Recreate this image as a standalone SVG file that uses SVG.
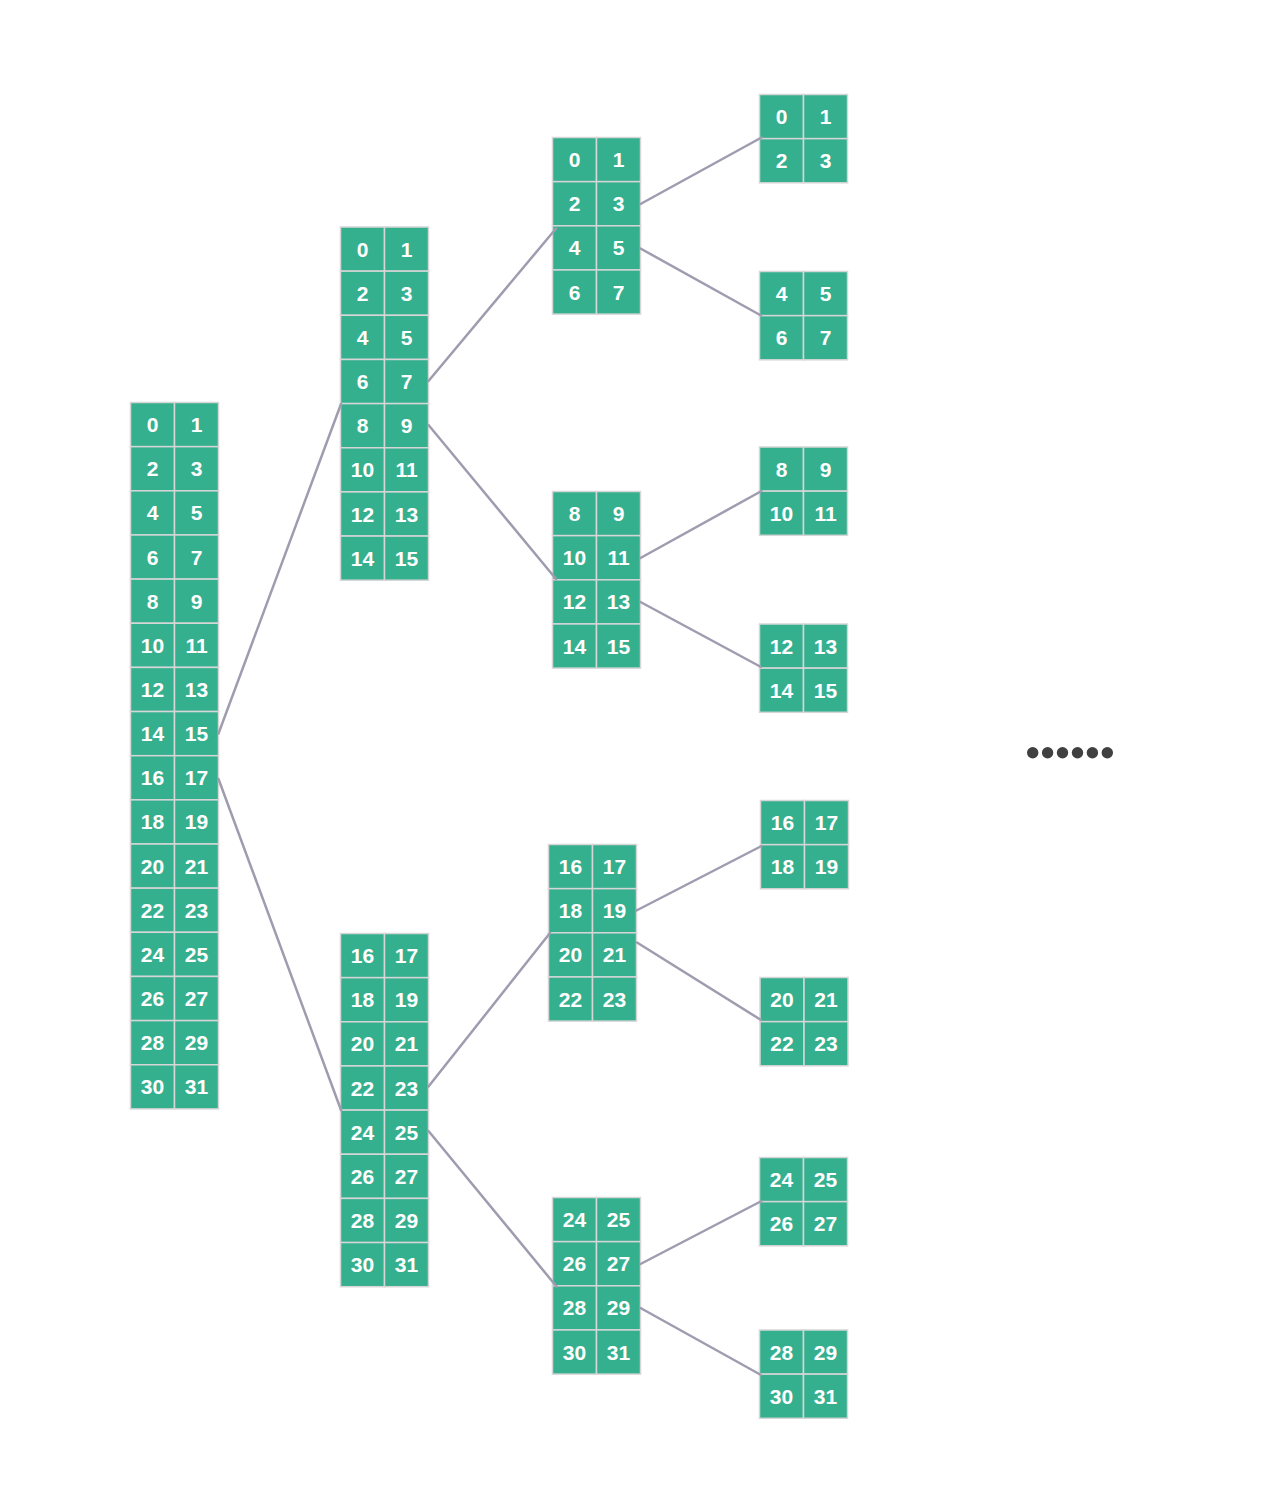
<svg xmlns="http://www.w3.org/2000/svg" width="1280" height="1512" viewBox="0 0 1280 1512">
<style>
rect.c{fill:#35b08f;stroke:#d6d6d6;stroke-width:1.5}
text{font-family:"Liberation Sans",Arial,sans-serif;font-weight:bold;font-size:21px;fill:#ffffff;text-anchor:middle}
.conn line{stroke:#a09cb0;stroke-width:2.5;stroke-linecap:round}
.dots circle{fill:#404040}
</style>
<rect width="1280" height="1512" fill="#ffffff"/>

<g id="blockA">
<rect class="c" x="130.5" y="402.5" width="44" height="44.15"/><rect class="c" x="174.5" y="402.5" width="44" height="44.15"/>
<rect class="c" x="130.5" y="446.65" width="44" height="44.15"/><rect class="c" x="174.5" y="446.65" width="44" height="44.15"/>
<rect class="c" x="130.5" y="490.8" width="44" height="44.15"/><rect class="c" x="174.5" y="490.8" width="44" height="44.15"/>
<rect class="c" x="130.5" y="534.95" width="44" height="44.15"/><rect class="c" x="174.5" y="534.95" width="44" height="44.15"/>
<rect class="c" x="130.5" y="579.1" width="44" height="44.15"/><rect class="c" x="174.5" y="579.1" width="44" height="44.15"/>
<rect class="c" x="130.5" y="623.25" width="44" height="44.15"/><rect class="c" x="174.5" y="623.25" width="44" height="44.15"/>
<rect class="c" x="130.5" y="667.4" width="44" height="44.15"/><rect class="c" x="174.5" y="667.4" width="44" height="44.15"/>
<rect class="c" x="130.5" y="711.55" width="44" height="44.15"/><rect class="c" x="174.5" y="711.55" width="44" height="44.15"/>
<rect class="c" x="130.5" y="755.7" width="44" height="44.15"/><rect class="c" x="174.5" y="755.7" width="44" height="44.15"/>
<rect class="c" x="130.5" y="799.85" width="44" height="44.15"/><rect class="c" x="174.5" y="799.85" width="44" height="44.15"/>
<rect class="c" x="130.5" y="844" width="44" height="44.15"/><rect class="c" x="174.5" y="844" width="44" height="44.15"/>
<rect class="c" x="130.5" y="888.15" width="44" height="44.15"/><rect class="c" x="174.5" y="888.15" width="44" height="44.15"/>
<rect class="c" x="130.5" y="932.3" width="44" height="44.15"/><rect class="c" x="174.5" y="932.3" width="44" height="44.15"/>
<rect class="c" x="130.5" y="976.45" width="44" height="44.15"/><rect class="c" x="174.5" y="976.45" width="44" height="44.15"/>
<rect class="c" x="130.5" y="1020.6" width="44" height="44.15"/><rect class="c" x="174.5" y="1020.6" width="44" height="44.15"/>
<rect class="c" x="130.5" y="1064.75" width="44" height="44.15"/><rect class="c" x="174.5" y="1064.75" width="44" height="44.15"/>
<text x="152.5" y="432.1">0</text><text x="196.5" y="432.1">1</text>
<text x="152.5" y="476.25">2</text><text x="196.5" y="476.25">3</text>
<text x="152.5" y="520.4">4</text><text x="196.5" y="520.4">5</text>
<text x="152.5" y="564.55">6</text><text x="196.5" y="564.55">7</text>
<text x="152.5" y="608.7">8</text><text x="196.5" y="608.7">9</text>
<text x="152.5" y="652.85">10</text><text x="196.5" y="652.85">11</text>
<text x="152.5" y="697">12</text><text x="196.5" y="697">13</text>
<text x="152.5" y="741.15">14</text><text x="196.5" y="741.15">15</text>
<text x="152.5" y="785.3">16</text><text x="196.5" y="785.3">17</text>
<text x="152.5" y="829.45">18</text><text x="196.5" y="829.45">19</text>
<text x="152.5" y="873.6">20</text><text x="196.5" y="873.6">21</text>
<text x="152.5" y="917.75">22</text><text x="196.5" y="917.75">23</text>
<text x="152.5" y="961.9">24</text><text x="196.5" y="961.9">25</text>
<text x="152.5" y="1006.05">26</text><text x="196.5" y="1006.05">27</text>
<text x="152.5" y="1050.2">28</text><text x="196.5" y="1050.2">29</text>
<text x="152.5" y="1094.35">30</text><text x="196.5" y="1094.35">31</text>
</g>

<g id="blockB1">
<rect class="c" x="340.5" y="227" width="44" height="44.15"/><rect class="c" x="384.5" y="227" width="44" height="44.15"/>
<rect class="c" x="340.5" y="271.15" width="44" height="44.15"/><rect class="c" x="384.5" y="271.15" width="44" height="44.15"/>
<rect class="c" x="340.5" y="315.3" width="44" height="44.15"/><rect class="c" x="384.5" y="315.3" width="44" height="44.15"/>
<rect class="c" x="340.5" y="359.45" width="44" height="44.15"/><rect class="c" x="384.5" y="359.45" width="44" height="44.15"/>
<rect class="c" x="340.5" y="403.6" width="44" height="44.15"/><rect class="c" x="384.5" y="403.6" width="44" height="44.15"/>
<rect class="c" x="340.5" y="447.75" width="44" height="44.15"/><rect class="c" x="384.5" y="447.75" width="44" height="44.15"/>
<rect class="c" x="340.5" y="491.9" width="44" height="44.15"/><rect class="c" x="384.5" y="491.9" width="44" height="44.15"/>
<rect class="c" x="340.5" y="536.05" width="44" height="44.15"/><rect class="c" x="384.5" y="536.05" width="44" height="44.15"/>
<text x="362.5" y="256.6">0</text><text x="406.5" y="256.6">1</text>
<text x="362.5" y="300.75">2</text><text x="406.5" y="300.75">3</text>
<text x="362.5" y="344.9">4</text><text x="406.5" y="344.9">5</text>
<text x="362.5" y="389.05">6</text><text x="406.5" y="389.05">7</text>
<text x="362.5" y="433.2">8</text><text x="406.5" y="433.2">9</text>
<text x="362.5" y="477.35">10</text><text x="406.5" y="477.35">11</text>
<text x="362.5" y="521.5">12</text><text x="406.5" y="521.5">13</text>
<text x="362.5" y="565.65">14</text><text x="406.5" y="565.65">15</text>
</g>

<g id="blockB2">
<rect class="c" x="340.5" y="933.5" width="44" height="44.15"/><rect class="c" x="384.5" y="933.5" width="44" height="44.15"/>
<rect class="c" x="340.5" y="977.65" width="44" height="44.15"/><rect class="c" x="384.5" y="977.65" width="44" height="44.15"/>
<rect class="c" x="340.5" y="1021.8" width="44" height="44.15"/><rect class="c" x="384.5" y="1021.8" width="44" height="44.15"/>
<rect class="c" x="340.5" y="1065.95" width="44" height="44.15"/><rect class="c" x="384.5" y="1065.95" width="44" height="44.15"/>
<rect class="c" x="340.5" y="1110.1" width="44" height="44.15"/><rect class="c" x="384.5" y="1110.1" width="44" height="44.15"/>
<rect class="c" x="340.5" y="1154.25" width="44" height="44.15"/><rect class="c" x="384.5" y="1154.25" width="44" height="44.15"/>
<rect class="c" x="340.5" y="1198.4" width="44" height="44.15"/><rect class="c" x="384.5" y="1198.4" width="44" height="44.15"/>
<rect class="c" x="340.5" y="1242.55" width="44" height="44.15"/><rect class="c" x="384.5" y="1242.55" width="44" height="44.15"/>
<text x="362.5" y="963.1">16</text><text x="406.5" y="963.1">17</text>
<text x="362.5" y="1007.25">18</text><text x="406.5" y="1007.25">19</text>
<text x="362.5" y="1051.4">20</text><text x="406.5" y="1051.4">21</text>
<text x="362.5" y="1095.55">22</text><text x="406.5" y="1095.55">23</text>
<text x="362.5" y="1139.7">24</text><text x="406.5" y="1139.7">25</text>
<text x="362.5" y="1183.85">26</text><text x="406.5" y="1183.85">27</text>
<text x="362.5" y="1228">28</text><text x="406.5" y="1228">29</text>
<text x="362.5" y="1272.15">30</text><text x="406.5" y="1272.15">31</text>
</g>

<g id="blockC1">
<rect class="c" x="552.5" y="137.5" width="44" height="44.15"/><rect class="c" x="596.5" y="137.5" width="44" height="44.15"/>
<rect class="c" x="552.5" y="181.65" width="44" height="44.15"/><rect class="c" x="596.5" y="181.65" width="44" height="44.15"/>
<rect class="c" x="552.5" y="225.8" width="44" height="44.15"/><rect class="c" x="596.5" y="225.8" width="44" height="44.15"/>
<rect class="c" x="552.5" y="269.95" width="44" height="44.15"/><rect class="c" x="596.5" y="269.95" width="44" height="44.15"/>
<text x="574.5" y="167.1">0</text><text x="618.5" y="167.1">1</text>
<text x="574.5" y="211.25">2</text><text x="618.5" y="211.25">3</text>
<text x="574.5" y="255.4">4</text><text x="618.5" y="255.4">5</text>
<text x="574.5" y="299.55">6</text><text x="618.5" y="299.55">7</text>
</g>

<g id="blockC2">
<rect class="c" x="552.5" y="491.5" width="44" height="44.15"/><rect class="c" x="596.5" y="491.5" width="44" height="44.15"/>
<rect class="c" x="552.5" y="535.65" width="44" height="44.15"/><rect class="c" x="596.5" y="535.65" width="44" height="44.15"/>
<rect class="c" x="552.5" y="579.8" width="44" height="44.15"/><rect class="c" x="596.5" y="579.8" width="44" height="44.15"/>
<rect class="c" x="552.5" y="623.95" width="44" height="44.15"/><rect class="c" x="596.5" y="623.95" width="44" height="44.15"/>
<text x="574.5" y="521.1">8</text><text x="618.5" y="521.1">9</text>
<text x="574.5" y="565.25">10</text><text x="618.5" y="565.25">11</text>
<text x="574.5" y="609.4">12</text><text x="618.5" y="609.4">13</text>
<text x="574.5" y="653.55">14</text><text x="618.5" y="653.55">15</text>
</g>

<g id="blockC3">
<rect class="c" x="548.5" y="844.5" width="44" height="44.15"/><rect class="c" x="592.5" y="844.5" width="44" height="44.15"/>
<rect class="c" x="548.5" y="888.65" width="44" height="44.15"/><rect class="c" x="592.5" y="888.65" width="44" height="44.15"/>
<rect class="c" x="548.5" y="932.8" width="44" height="44.15"/><rect class="c" x="592.5" y="932.8" width="44" height="44.15"/>
<rect class="c" x="548.5" y="976.95" width="44" height="44.15"/><rect class="c" x="592.5" y="976.95" width="44" height="44.15"/>
<text x="570.5" y="874.1">16</text><text x="614.5" y="874.1">17</text>
<text x="570.5" y="918.25">18</text><text x="614.5" y="918.25">19</text>
<text x="570.5" y="962.4">20</text><text x="614.5" y="962.4">21</text>
<text x="570.5" y="1006.55">22</text><text x="614.5" y="1006.55">23</text>
</g>

<g id="blockC4">
<rect class="c" x="552.5" y="1197.5" width="44" height="44.15"/><rect class="c" x="596.5" y="1197.5" width="44" height="44.15"/>
<rect class="c" x="552.5" y="1241.65" width="44" height="44.15"/><rect class="c" x="596.5" y="1241.65" width="44" height="44.15"/>
<rect class="c" x="552.5" y="1285.8" width="44" height="44.15"/><rect class="c" x="596.5" y="1285.8" width="44" height="44.15"/>
<rect class="c" x="552.5" y="1329.95" width="44" height="44.15"/><rect class="c" x="596.5" y="1329.95" width="44" height="44.15"/>
<text x="574.5" y="1227.1">24</text><text x="618.5" y="1227.1">25</text>
<text x="574.5" y="1271.25">26</text><text x="618.5" y="1271.25">27</text>
<text x="574.5" y="1315.4">28</text><text x="618.5" y="1315.4">29</text>
<text x="574.5" y="1359.55">30</text><text x="618.5" y="1359.55">31</text>
</g>

<g id="blockD1">
<rect class="c" x="759.5" y="94.5" width="44" height="44.15"/><rect class="c" x="803.5" y="94.5" width="44" height="44.15"/>
<rect class="c" x="759.5" y="138.65" width="44" height="44.15"/><rect class="c" x="803.5" y="138.65" width="44" height="44.15"/>
<text x="781.5" y="124.1">0</text><text x="825.5" y="124.1">1</text>
<text x="781.5" y="168.25">2</text><text x="825.5" y="168.25">3</text>
</g>

<g id="blockD2">
<rect class="c" x="759.5" y="271.5" width="44" height="44.15"/><rect class="c" x="803.5" y="271.5" width="44" height="44.15"/>
<rect class="c" x="759.5" y="315.65" width="44" height="44.15"/><rect class="c" x="803.5" y="315.65" width="44" height="44.15"/>
<text x="781.5" y="301.1">4</text><text x="825.5" y="301.1">5</text>
<text x="781.5" y="345.25">6</text><text x="825.5" y="345.25">7</text>
</g>

<g id="blockD3">
<rect class="c" x="759.5" y="447" width="44" height="44.15"/><rect class="c" x="803.5" y="447" width="44" height="44.15"/>
<rect class="c" x="759.5" y="491.15" width="44" height="44.15"/><rect class="c" x="803.5" y="491.15" width="44" height="44.15"/>
<text x="781.5" y="476.6">8</text><text x="825.5" y="476.6">9</text>
<text x="781.5" y="520.75">10</text><text x="825.5" y="520.75">11</text>
</g>

<g id="blockD4">
<rect class="c" x="759.5" y="624" width="44" height="44.15"/><rect class="c" x="803.5" y="624" width="44" height="44.15"/>
<rect class="c" x="759.5" y="668.15" width="44" height="44.15"/><rect class="c" x="803.5" y="668.15" width="44" height="44.15"/>
<text x="781.5" y="653.6">12</text><text x="825.5" y="653.6">13</text>
<text x="781.5" y="697.75">14</text><text x="825.5" y="697.75">15</text>
</g>

<g id="blockD5">
<rect class="c" x="760.5" y="800.5" width="44" height="44.15"/><rect class="c" x="804.5" y="800.5" width="44" height="44.15"/>
<rect class="c" x="760.5" y="844.65" width="44" height="44.15"/><rect class="c" x="804.5" y="844.65" width="44" height="44.15"/>
<text x="782.5" y="830.1">16</text><text x="826.5" y="830.1">17</text>
<text x="782.5" y="874.25">18</text><text x="826.5" y="874.25">19</text>
</g>

<g id="blockD6">
<rect class="c" x="760" y="977.5" width="44" height="44.15"/><rect class="c" x="804" y="977.5" width="44" height="44.15"/>
<rect class="c" x="760" y="1021.65" width="44" height="44.15"/><rect class="c" x="804" y="1021.65" width="44" height="44.15"/>
<text x="782" y="1007.1">20</text><text x="826" y="1007.1">21</text>
<text x="782" y="1051.25">22</text><text x="826" y="1051.25">23</text>
</g>

<g id="blockD7">
<rect class="c" x="759.5" y="1157.5" width="44" height="44.15"/><rect class="c" x="803.5" y="1157.5" width="44" height="44.15"/>
<rect class="c" x="759.5" y="1201.65" width="44" height="44.15"/><rect class="c" x="803.5" y="1201.65" width="44" height="44.15"/>
<text x="781.5" y="1187.1">24</text><text x="825.5" y="1187.1">25</text>
<text x="781.5" y="1231.25">26</text><text x="825.5" y="1231.25">27</text>
</g>

<g id="blockD8">
<rect class="c" x="759.5" y="1330" width="44" height="44.15"/><rect class="c" x="803.5" y="1330" width="44" height="44.15"/>
<rect class="c" x="759.5" y="1374.15" width="44" height="44.15"/><rect class="c" x="803.5" y="1374.15" width="44" height="44.15"/>
<text x="781.5" y="1359.6">28</text><text x="825.5" y="1359.6">29</text>
<text x="781.5" y="1403.75">30</text><text x="825.5" y="1403.75">31</text>
</g>

<g id="connectors" class="conn">
<line x1="218.5" y1="733.5" x2="341" y2="404"/>
<line x1="218.5" y1="779" x2="341" y2="1110"/>
<line x1="428.5" y1="381" x2="556" y2="228.5"/>
<line x1="428.5" y1="425" x2="556" y2="579"/>
<line x1="428.5" y1="1086.5" x2="550" y2="933"/>
<line x1="428.5" y1="1131" x2="556.5" y2="1286.5"/>
<line x1="640.5" y1="204" x2="761.5" y2="137.5"/>
<line x1="640.5" y1="248.5" x2="761" y2="315.5"/>
<line x1="640.5" y1="558" x2="761.5" y2="491"/>
<line x1="640.5" y1="602" x2="761" y2="667"/>
<line x1="636.5" y1="910.5" x2="761.5" y2="846"/>
<line x1="637" y1="942.5" x2="761" y2="1020"/>
<line x1="640.5" y1="1264" x2="761.5" y2="1201"/>
<line x1="640.5" y1="1308" x2="761" y2="1375"/>
</g>

<g id="ellipsis" class="dots">
<circle cx="1032.7" cy="752.7" r="5.7"/>
<circle cx="1047.6" cy="752.7" r="5.7"/>
<circle cx="1062.5" cy="752.7" r="5.7"/>
<circle cx="1077.5" cy="752.7" r="5.7"/>
<circle cx="1092.4" cy="752.7" r="5.7"/>
<circle cx="1107.3" cy="752.7" r="5.7"/>
</g>
</svg>
